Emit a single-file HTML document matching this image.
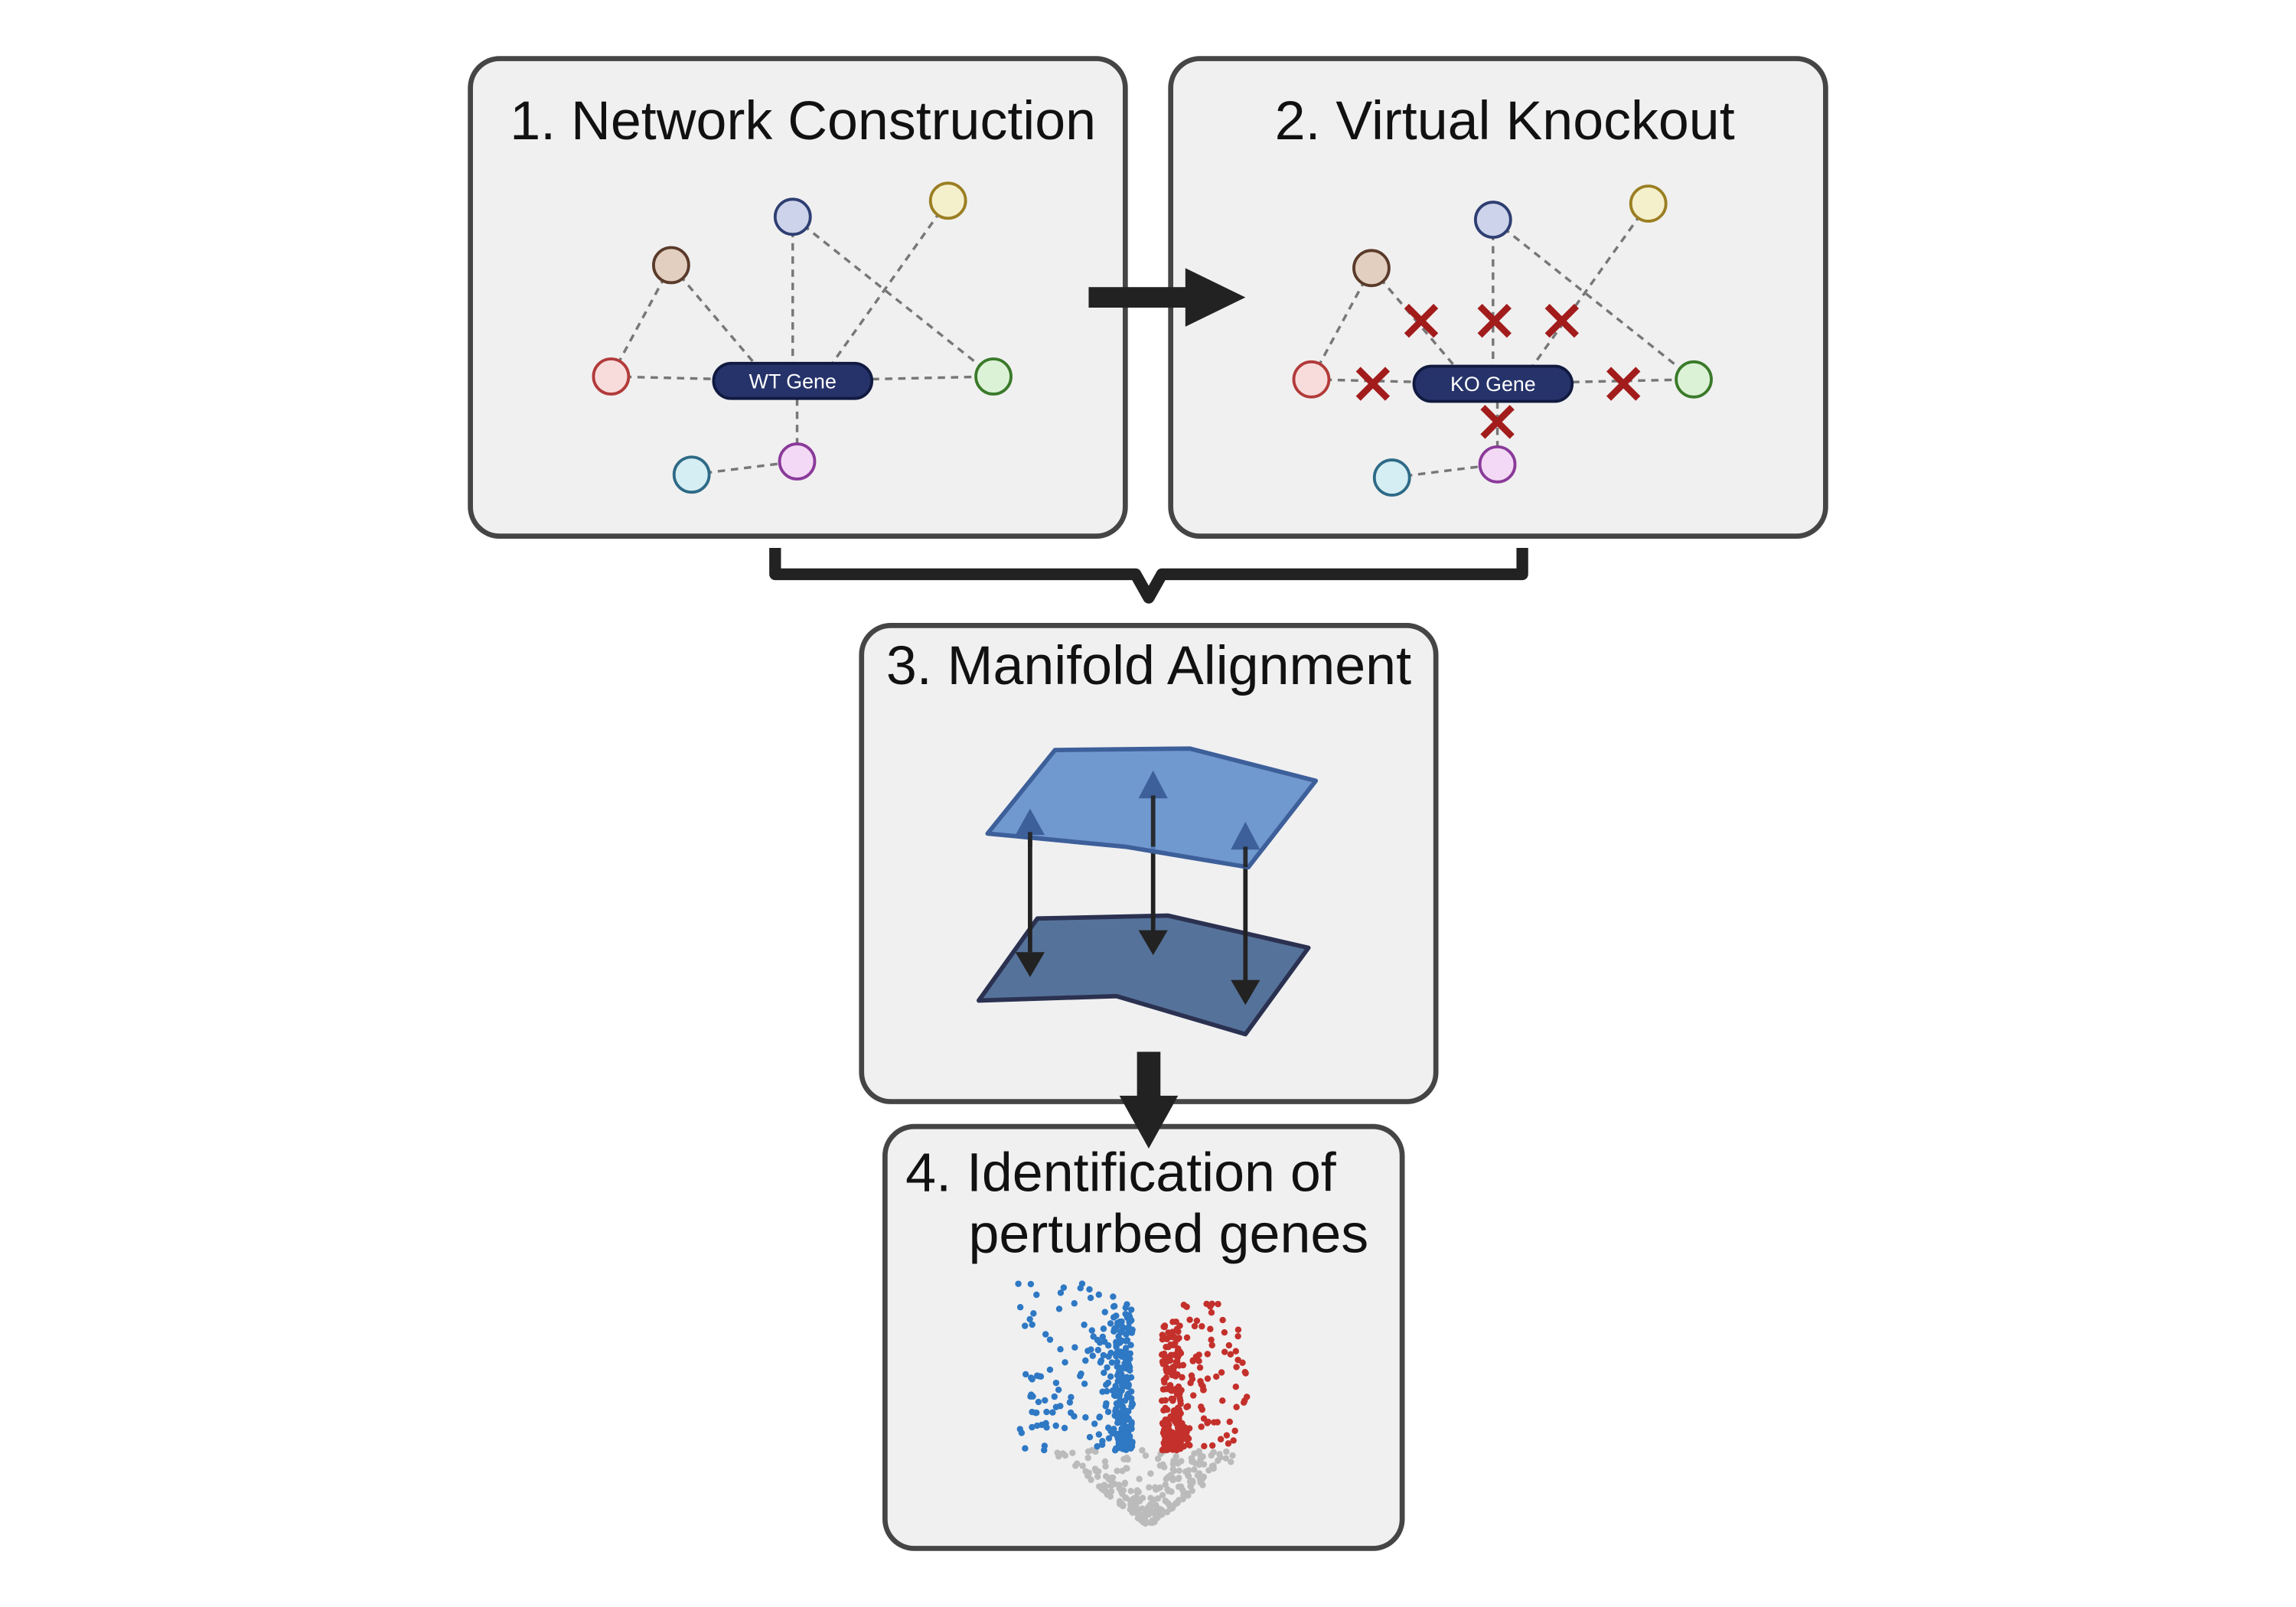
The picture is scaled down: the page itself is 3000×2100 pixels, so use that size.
<!DOCTYPE html>
<html><head><meta charset="utf-8"><style>
html,body{margin:0;padding:0;background:#fff}
svg{display:block}
text{font-family:"Liberation Sans",sans-serif}
</style></head><body>
<svg id="s" width="3000" height="2100" viewBox="0 0 1567 1097" xmlns="http://www.w3.org/2000/svg">
<rect width="1567" height="1097" fill="#fff"/>
<g fill="#f0f0f0" stroke="#454545" stroke-width="3.5">
<rect x="321" y="40" width="447" height="326" rx="20"/>
<rect x="799" y="40" width="447" height="326" rx="20"/>
<rect x="588" y="427" width="392" height="325" rx="20"/>
<rect x="604" y="769" width="353" height="288" rx="20"/>
</g>
<text x="548" y="95" font-size="37.5" text-anchor="middle" fill="#111">1. Network Construction</text>
<text x="1027" y="95" font-size="37.5" text-anchor="middle" fill="#111">2. Virtual Knockout</text>
<text x="784" y="467" font-size="37.5" text-anchor="middle" fill="#111">3. Manifold Alignment</text>
<text x="618" y="813" font-size="37.5" fill="#111">4. Identification of</text>
<text x="661" y="855" font-size="37.5" fill="#111">perturbed genes</text>
<rect x="743" y="196" width="68" height="14" fill="#222"/>
<polygon points="809,183 850,203 809,223" fill="#222"/>
<path d="M529,374 V392 H775 L784,408 L793,392 H1039 V374" fill="none" stroke="#222" stroke-width="8" stroke-linejoin="round"/>
<g id="net1"></g><g id="net2"></g>
<polygon points="668,683 708,627 797,625 893,647 850,706 762,680" fill="#55729a" stroke="#2b3150" stroke-width="3" stroke-linejoin="round"/>
<g stroke="#222" stroke-width="3">
<line x1="703" y1="565" x2="703" y2="650"/><line x1="787" y1="540" x2="787" y2="637"/><line x1="850" y1="575" x2="850" y2="670"/>
</g>
<g fill="#222">
<polygon points="693,650 713,650 703,667"/><polygon points="777,635 797,635 787,652"/><polygon points="840,669 860,669 850,686"/>
</g>
<polygon points="674,569 720,512 812,511 898,533 852,592 768,578" fill="#5d8ccb" fill-opacity="0.88" stroke="#3d5f9a" stroke-width="3" stroke-linejoin="round"/>
<g fill="#3d5f9a">
<polygon points="693,570 713,570 703,552"/><polygon points="777,545 797,545 787,526"/><polygon points="840,580 860,580 850,561"/>
</g>
<g stroke="#222" stroke-width="3" opacity="0.9">
<line x1="703" y1="568" x2="703" y2="578"/><line x1="787" y1="543" x2="787" y2="578"/><line x1="850" y1="578" x2="850" y2="592"/>
</g>
<rect x="776" y="718" width="16" height="32" fill="#222"/>
<polygon points="764,748 804,748 784,784" fill="#222"/>
<g id="volc"></g>
</svg>
<script>
var NS="http://www.w3.org/2000/svg";
function el(p,t,a){var e=document.createElementNS(NS,t);for(var k in a)e.setAttribute(k,a[k]);p.appendChild(e);return e;}
function net(id,dx,dy,ko){
 var g=document.getElementById(id);
 var N={br:[458,181],bl:[541,148],ye:[647,137],re:[417,257],gr:[678,257],cy:[472,324],pi:[544,315]};
 var P=[541,260];
 function pt(n){return [N[n][0]+dx,N[n][1]+dy];}
 var ed=[[pt('br'),pt('re')],[pt('br'),[514+dx,247+dy]],[pt('bl'),[541+dx,248+dy]],[pt('ye'),[568+dx,248+dy]],[pt('bl'),pt('gr')],[pt('re'),[P[0]+dx,P[1]+dy]],[[P[0]+dx,P[1]+dy],pt('gr')],[[544+dx,272+dy],pt('pi')],[pt('cy'),pt('pi')]];
 ed.forEach(function(e){el(g,'line',{x1:e[0][0],y1:e[0][1],x2:e[1][0],y2:e[1][1],stroke:'#777','stroke-width':1.8,'stroke-dasharray':'5,4'});});
 var C={br:['#e2cfc0','#5a3a2a'],bl:['#ccd3ea','#2e3e72'],ye:['#f5f0cc','#9a7f22'],re:['#f8dcdc','#b23a3a'],gr:['#dcf2d6','#3a7a2a'],cy:['#d5eef3','#2e6a86'],pi:['#f3d9f5','#8a3a9a']};
 for(var n in N){var p=pt(n);el(g,'circle',{cx:p[0],cy:p[1],r:12,fill:C[n][0],stroke:C[n][1],'stroke-width':2});}
 el(g,'rect',{x:P[0]+dx-54,y:P[1]+dy-12,width:108,height:24,rx:12,fill:'#26336a',stroke:'#111a40','stroke-width':2});
 var t=el(g,'text',{x:P[0]+dx,y:P[1]+dy+5,'font-size':14,'text-anchor':'middle',fill:'#fff'});t.textContent=ko?'KO Gene':'WT Gene';
 if(ko){[[970,219],[1020,219],[1066,219],[937,262],[1108,262],[1022,288]].forEach(function(c){
  var x=c[0],y=c[1],s=10;
  el(g,'path',{d:'M'+(x-s)+','+(y-s)+'L'+(x+s)+','+(y+s)+'M'+(x+s)+','+(y-s)+'L'+(x-s)+','+(y+s),stroke:'#a21c1c','stroke-width':4.5,fill:'none'});});}
}
net('net1',0,0,false);net('net2',478,2,true);
var seed=11;function r(){seed=(seed*16807)%2147483647;return (seed-1)/2147483646;}
var v=document.getElementById('volc');
for(var i=0;i<240;i++){var y=990+r()*50;var half=(1042-y)/52*68;var w=half*Math.pow(r(),0.7);var x=784+(r()<0.5?-1:1)*w;el(v,'circle',{cx:x,cy:y,r:2.2,fill:'#bbb'});}
for(var i=0;i<200;i++){var d=r()*13;var y=990-Math.pow(r(),1.4)*100;el(v,'circle',{cx:773-d,cy:y,r:2.2,fill:'#2e78c4'});}
for(var i=0;i<110;i++){var d=13+Math.pow(r(),1.3)*65;var y=990-Math.pow(r(),1.2)*115;el(v,'circle',{cx:773-d,cy:y,r:2.2,fill:'#2e78c4'});}
for(var i=0;i<180;i++){var d=r()*13;var y=990-Math.pow(r(),1.4)*90;el(v,'circle',{cx:793+d,cy:y,r:2.2,fill:'#c4302b'});}
for(var i=0;i<90;i++){var d=13+Math.pow(r(),1.5)*45;var y=990-Math.pow(r(),1.2)*100;el(v,'circle',{cx:793+d,cy:y,r:2.2,fill:'#c4302b'});}
</script>
</body></html>
